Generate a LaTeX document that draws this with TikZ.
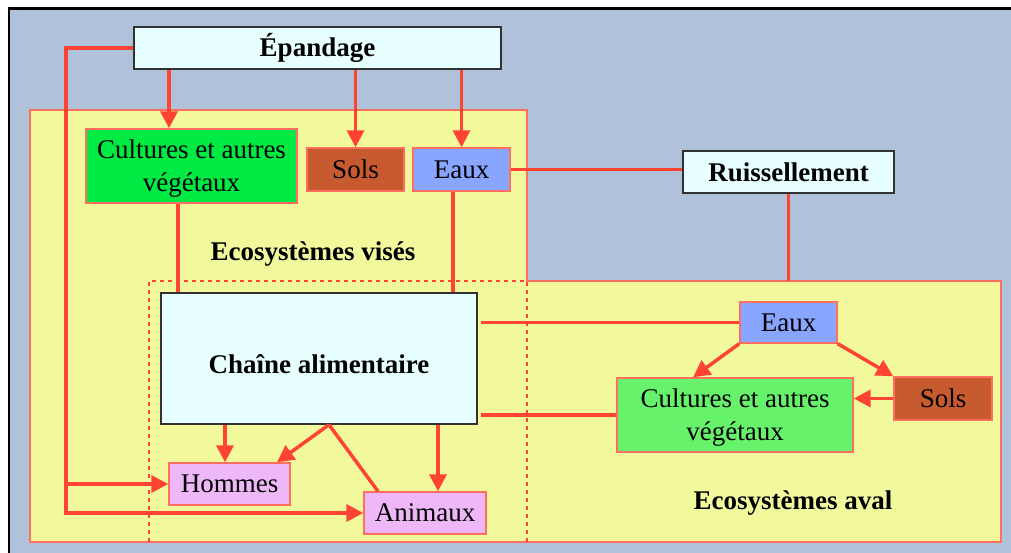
\documentclass[tikz,border=0pt]{standalone}
\usepackage{fontspec}
\setmainfont{Liberation Serif}
\usetikzlibrary{arrows.meta}
\definecolor{bgblue}{RGB}{176,193,218}
\definecolor{yel}{RGB}{242,248,156}
\definecolor{salmon}{RGB}{255,110,95}
\definecolor{conn}{RGB}{255,68,51}
\definecolor{green1}{RGB}{0,234,68}
\definecolor{green2}{RGB}{102,242,106}
\definecolor{soil}{RGB}{200,90,48}
\definecolor{water}{RGB}{136,166,255}
\definecolor{lav}{RGB}{238,184,248}
\definecolor{lcyan}{RGB}{232,255,255}
\definecolor{dgray}{RGB}{50,50,50}
\newcommand{\lowr}[1]{\raisebox{-3pt}[\height][\depth]{#1}}
\tikzset{
  box/.style={draw=salmon, line width=1.4pt, inner sep=0pt, align=center,
     font=\fontsize{27}{33}\selectfont},
  hbox/.style={draw=dgray, line width=1.4pt, fill=lcyan, inner sep=0pt, align=center,
     font=\fontsize{27}{33}\selectfont\bfseries},
  lbl/.style={font=\fontsize{27}{33}\selectfont\bfseries, inner sep=0pt},
  line/.style={draw=conn, line width=3.5pt},
  arr/.style={line, -{Triangle[length=17pt,width=17pt]}},
  zoneborder/.style={draw=salmon, line width=1.4pt},
  zonedash/.style={draw=conn, line width=1.2pt, dash pattern=on 4pt off 4pt},
}
\begin{document}
\begin{tikzpicture}[x=1pt,y=-1pt]
\useasboundingbox (0,0) rectangle (1011,553);
\fill[white] (0,0) rectangle (1011,553);
\fill[black] (8,7) rectangle (1011,553);
\fill[bgblue] (10,10) rectangle (1011,553);
% zones
\fill[yel] (30,110) rectangle (527,542);
\fill[yel] (149,281) rectangle (1001,542);
\draw[zoneborder] (527,281) -- (527,110) -- (30,110) -- (30,542) -- (1001,542) -- (1001,281) -- cycle;
\draw[zonedash] (149,542) -- (149,281) -- (527,281) -- (527,542);
\node[lbl] (vises) at (313,254) {Ecosystèmes visés};
\node[lbl] (aval) at (793,503) {Ecosystèmes aval};
% nodes
\node[hbox, minimum width=367pt, minimum height=42pt] (epandage) at (317.5,48) {Épandage};
\node[box, fill=green1, minimum width=211pt, minimum height=74pt] (cult1) at (191.5,166) {\lowr{Cultures et autres}\\\lowr{végétaux}};
\node[box, fill=soil, minimum width=97pt, minimum height=43pt] (sols1) at (355.5,169.5) {Sols};
\node[box, fill=water, minimum width=97pt, minimum height=43pt] (eaux1) at (461.5,169.5) {Eaux};
\node[hbox, minimum width=211pt, minimum height=42pt] (ruiss) at (788.5,172) {Ruissellement};
\node[hbox, minimum width=316pt, minimum height=131pt] (chaine) at (319,358.5) {\raisebox{-14.5pt}[0pt][0pt]{Chaîne alimentaire}};
\node[box, fill=lav, minimum width=121pt, minimum height=42pt] (hommes) at (229.5,484) {Hommes};
\node[box, fill=lav, minimum width=122pt, minimum height=42pt] (animaux) at (425,513) {Animaux};
\node[box, fill=water, minimum width=97pt, minimum height=41pt] (eaux2) at (788.5,322.5) {Eaux};
\node[box, fill=green2, minimum width=236pt, minimum height=74pt] (cult2) at (735,415) {\lowr{Cultures et autres}\\\lowr{végétaux}};
\node[box, fill=soil, minimum width=98pt, minimum height=43pt] (sols2) at (943,398.5) {Sols};
% helper coordinates
\coordinate (trunk) at (66,0);
\coordinate (xa) at (169,0);
\coordinate (xb) at (178,0);
\coordinate (xc) at (453,0);
\coordinate (xd) at (693,0);
\coordinate (xe) at (225,0);
\coordinate (xf) at (329,0);
\coordinate (xg) at (277,0);
\coordinate (xh) at (378,0);
\coordinate (xi) at (438,0);
\coordinate (btop) at (0,281);
% connectors
\draw[arr] (epandage.west) -| (trunk |- animaux.west) -- (animaux.west);
\draw[arr] (trunk |- hommes.west) -- (hommes.west);
\draw[arr] (epandage.south -| xa) -- (cult1.north -| xa);
\draw[arr] (epandage.south -| sols1.north) -- (sols1.north);
\draw[arr] (epandage.south -| eaux1.north) -- (eaux1.north);
\draw[line] (cult1.south -| xb) -- (chaine.north -| xb);
\draw[line] (eaux1.south -| xc) -- (chaine.north -| xc);
\draw[line] (eaux1.east) -- (eaux1.east -| ruiss.west);
\draw[line] (ruiss.south) -- (ruiss.south |- btop);
\draw[line] ([xshift=3pt]chaine.east |- eaux2.west) -- (eaux2.west);
\draw[line] ([xshift=3pt]chaine.east |- cult2.west) -- (cult2.west);
\draw[arr] (eaux2.south west) -- (cult2.north -| xd);
\draw[arr] (eaux2.south east) -- (sols2.north west);
\draw[arr] (sols2.west) -- (sols2.west -| cult2.east);
\draw[arr] (chaine.south -| xe) -- (hommes.north -| xe);
\draw[arr] (chaine.south -| xf) -- (hommes.north -| xg);
\draw[line] (chaine.south -| xf) -- (animaux.north -| xh);
\draw[arr] (chaine.south -| xi) -- (animaux.north -| xi);
\end{tikzpicture}
\end{document}
